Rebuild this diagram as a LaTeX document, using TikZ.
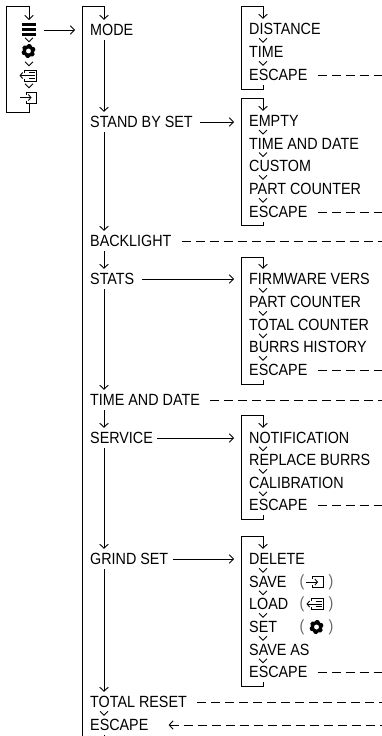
\documentclass[tikz,border=0pt]{standalone}
\usepackage{fontspec}
\setmainfont[FakeStretch=0.885]{Liberation Sans}
\usetikzlibrary{arrows.meta,calc}
\tikzset{
  x=1pt,y=-1pt,
  lbl/.style={anchor=west,inner xsep=0pt,inner ysep=4.2pt,text height=11.6pt,text depth=0pt,font=\fontsize{16.2}{17}\selectfont},
  wire/.style={line width=0.9pt,black},
  arr/.style={wire,-{Straight Barb[length=4pt,width=8.5pt,line width=0.9pt]}},
  chev/.style={line width=0.9pt,black},
  dashline/.style={line width=0.9pt,black,dash pattern=on 9pt off 5pt,shorten <=10pt},
  larr/.style={dashline,{Straight Barb[length=4pt,width=8.5pt,line width=0.9pt]}-},
  paren/.style={inner sep=0pt,font=\fontsize{16.2}{17}\selectfont,text=black!60},
  gearpic/.pic={
    \fill[black,even odd rule]
      (90:7) -- (70:5.6) -- (50:7) -- (30:7) -- (10:5.6) -- (-10:7) -- (-30:7) -- (-50:5.6) -- (-70:7) -- (-90:7)
      -- (-110:5.6) -- (-130:7) -- (-150:7) -- (-170:5.6) -- (170:7) -- (150:7) -- (130:5.6) -- (110:7) -- cycle
      (0,0) circle (2.6);
  },
  listpic/.pic={
    \draw[line width=.9pt] (-5.5,-3) -- (-5.5,-5.5) -- (6,-5.5) -- (6,5.5) -- (-5.5,5.5) -- (-5.5,3);
    \draw[line width=.9pt] (-1,-2.7) -- (4.5,-2.7) (-1,0) -- (4.5,0) (-1,2.7) -- (4.5,2.7);
    \draw[line width=.9pt,-{Straight Barb[length=2.5pt,width=6pt,line width=.9pt]}] (0,0) -- (-10.5,0);
  },
  enterpic/.pic={
    \draw[line width=.9pt] (-4,-3) -- (-4,-5.5) -- (6.5,-5.5) -- (6.5,5.5) -- (-4,5.5) -- (-4,3);
    \draw[line width=.9pt,-{Straight Barb[length=2.5pt,width=6pt,line width=.9pt]}] (-10.5,0) -- (1.5,0);
  },
  barspic/.pic={
    \draw[line width=2.5pt] (-7,-4.8) -- (7,-4.8) (-7,0) -- (7,0) (-7,4.8) -- (7,4.8);
  }
}
\newcommand{\chevron}[3]{\draw[chev] ($(#1.south -| #3)!.5!(#2.north -| #3)$) ++(-4,-2.2) -- ++(4,4) -- ++(4,-4);}
\newcommand{\chevxy}[2]{\draw[chev] (#1,#2) ++(-4,-2.2) -- ++(4,4) -- ++(4,-4);}
\begin{document}
\begin{tikzpicture}
\useasboundingbox (0,0) rectangle (382,736);
% column spines and edges
\coordinate (mainx) at (104,0);
\coordinate (subx) at (263,0);
\coordinate (edge) at (382,0);
% left icon column
\coordinate (top0) at (6,6);
\coordinate (bot0) at (6,112);
\coordinate (bars) at (29,29.5);
\coordinate (gear) at (28.5,51);
\coordinate (lst) at (30,75.5);
\coordinate (ent) at (30,97.5);
\pic at (bars) {barspic};
\pic at (gear) {gearpic};
\pic at (lst) {listpic};
\pic at (ent) {enterpic};
\chevxy{29}{40}
\chevxy{29}{64}
\chevxy{29}{86}
\draw[arr] (29,104) |- (bot0) -- (top0) -| (29,20);
\coordinate (a0) at (44,30);
\coordinate (b0) at (75,30);
\draw[arr] (a0) -- (b0);
% main column
\node[lbl] (mode) at (90,30) {MODE};
\node[lbl] (standby) at (90,122) {STAND BY SET};
\node[lbl] (back) at (90,241) {BACKLIGHT};
\node[lbl] (stats) at (90,279) {STATS};
\node[lbl] (timedate) at (90,400) {TIME AND DATE};
\node[lbl] (service) at (90,438) {SERVICE};
\node[lbl] (grind) at (90,559) {GRIND SET};
\node[lbl] (total) at (90,702) {TOTAL RESET};
\node[lbl] (escmain) at (90,725) {ESCAPE};
\coordinate (maintop) at (82,6);
\coordinate (mainbot) at (82,736);
\draw[wire] (mainbot) -- (maintop);
\draw[arr] (maintop) -| (mode.north -| mainx);
\draw[arr] (mode.south -| mainx) -- (standby.north -| mainx);
\draw[arr] (standby.south -| mainx) -- (back.north -| mainx);
\draw[arr] (back.south -| mainx) -- (stats.north -| mainx);
\draw[arr] (stats.south -| mainx) -- (timedate.north -| mainx);
\draw[arr] (timedate.south -| mainx) -- (service.north -| mainx);
\draw[arr] (service.south -| mainx) -- (grind.north -| mainx);
\draw[arr] (grind.south -| mainx) -- (total.north -| mainx);
\chevron{total}{escmain}{mainx}
\draw[wire] (104,735) -- (104,736);
% sub box 1
\node[lbl] (a1) at (249,29) {DISTANCE};
\node[lbl] (a2) at (249,52) {TIME};
\node[lbl] (a3) at (249,75) {ESCAPE};
\coordinate (t1) at (241,6);
\coordinate (u1) at (241,89);
\chevron{a1}{a2}{subx}
\chevron{a2}{a3}{subx}
\draw[arr] (a3.south -| subx) |- (u1) -- (t1) -| (a1.north -| subx);
\draw[dashline] (a3.east) -- (a3.east -| edge);
% sub box 2
\node[lbl] (b1) at (249,121) {EMPTY};
\node[lbl] (b2) at (249,143.5) {TIME AND DATE};
\node[lbl] (b3) at (249,166) {CUSTOM};
\node[lbl] (b4) at (249,189) {PART COUNTER};
\node[lbl] (b5) at (249,212) {ESCAPE};
\coordinate (t2) at (241,98);
\coordinate (u2) at (241,225);
\chevron{b1}{b2}{subx}
\chevron{b2}{b3}{subx}
\chevron{b3}{b4}{subx}
\chevron{b4}{b5}{subx}
\draw[arr] (b5.south -| subx) |- (u2) -- (t2) -| (b1.north -| subx);
\draw[dashline] (b5.east) -- (b5.east -| edge);
\draw[arr,shorten <=7.5pt] (standby.east) -- ($(standby.east -| t2)+(-7,0)$);
\draw[dashline] (back.east) -- (back.east -| edge);
% sub box 3
\node[lbl] (c1) at (249,279) {FIRMWARE VERS};
\node[lbl] (c2) at (249,302) {PART COUNTER};
\node[lbl] (c3) at (249,325) {TOTAL COUNTER};
\node[lbl] (c4) at (249,347) {BURRS HISTORY};
\node[lbl] (c5) at (249,370) {ESCAPE};
\coordinate (t3) at (241,257);
\coordinate (u3) at (241,384);
\chevron{c1}{c2}{subx}
\chevron{c2}{c3}{subx}
\chevron{c3}{c4}{subx}
\chevron{c4}{c5}{subx}
\draw[arr] (c5.south -| subx) |- (u3) -- (t3) -| (c1.north -| subx);
\draw[dashline] (c5.east) -- (c5.east -| edge);
\draw[arr,shorten <=8pt] (stats.east) -- ($(stats.east -| t3)+(-7,0)$);
\draw[dashline] (timedate.east) -- (timedate.east -| edge);
% sub box 4
\node[lbl] (d1) at (249,438) {NOTIFICATION};
\node[lbl] (d2) at (249,460) {REPLACE BURRS};
\node[lbl] (d3) at (249,483) {CALIBRATION};
\node[lbl] (d4) at (249,505) {ESCAPE};
\coordinate (t4) at (241,415);
\coordinate (u4) at (241,519);
\chevron{d1}{d2}{subx}
\chevron{d2}{d3}{subx}
\chevron{d3}{d4}{subx}
\draw[arr] (d4.south -| subx) |- (u4) -- (t4) -| (d1.north -| subx);
\draw[dashline] (d4.east) -- (d4.east -| edge);
\draw[arr,shorten <=4pt] (service.east) -- ($(service.east -| t4)+(-7,0)$);
% sub box 5
\node[lbl] (e1) at (249,559) {DELETE};
\node[lbl] (e2) at (249,582) {SAVE};
\node[lbl] (e3) at (249,604) {LOAD};
\node[lbl] (e4) at (249,627) {SET};
\node[lbl] (e5) at (249,650) {SAVE AS};
\node[lbl] (e6) at (249,672) {ESCAPE};
\coordinate (t5) at (241,536);
\coordinate (u5) at (241,686);
\chevron{e1}{e2}{subx}
\chevron{e2}{e3}{subx}
\chevron{e3}{e4}{subx}
\chevron{e4}{e5}{subx}
\chevron{e5}{e6}{subx}
\draw[arr] (e6.south -| subx) |- (u5) -- (t5) -| (e1.north -| subx);
\draw[dashline] (e6.east) -- (e6.east -| edge);
\draw[arr,shorten <=5pt] (grind.east) -- ($(grind.east -| t5)+(-7,0)$);
% inline icons
\node[paren] (p1) at (302,582) {(};
\node[paren] (q1) at (331,582) {)};
\node[paren] (p2) at (302,604) {(};
\node[paren] (q2) at (331,604) {)};
\node[paren] (p3) at (302,627) {(};
\node[paren] (q3) at (331,627) {)};
\pic at (316.5,582) {enterpic};
\pic at (317,604) {listpic};
\pic at (316.5,627) {gearpic};
% bottom dashes
\draw[dashline] (total.east) -- (total.east -| edge);
\draw[larr,shorten <=20pt] (escmain.east) -- (escmain.east -| edge);
\end{tikzpicture}
\end{document}
